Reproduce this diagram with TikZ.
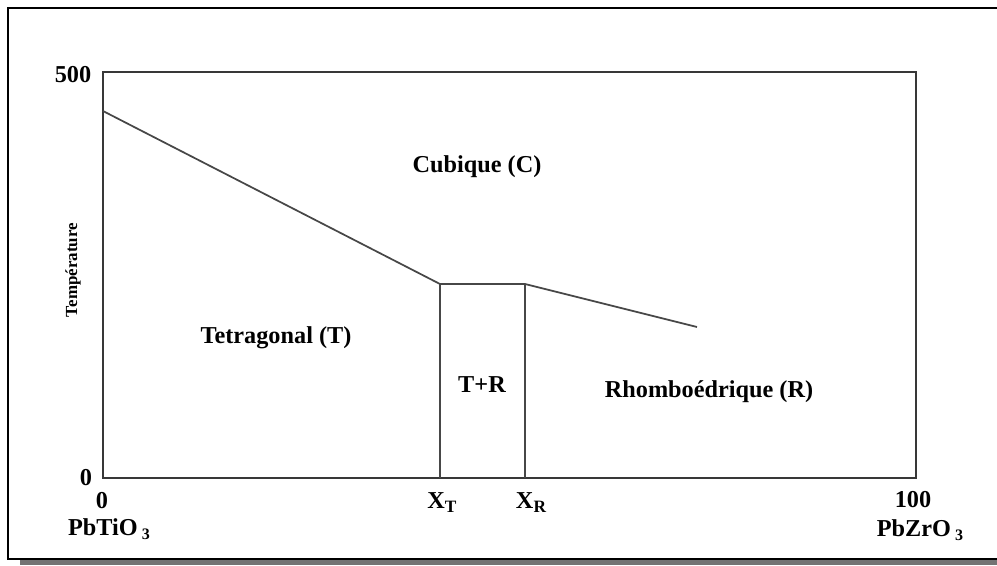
\documentclass[tikz,border=0pt]{standalone}
\usepackage{fontspec}
\setmainfont{Liberation Serif}
\newcommand{\mysubX}[1]{\raisebox{-3.6pt}{\fontsize{13}{13}\selectfont #1}}
\newcommand{\mysubN}[1]{\raisebox{-3.4pt}{\fontsize{12}{12}\selectfont #1}}
\begin{document}
\begin{tikzpicture}[x=0.75pt,y=-0.75pt,
  lbl/.style={font=\bfseries\fontsize{18.2}{20}\selectfont, inner sep=0pt, anchor=base},
  axislbl/.style={font=\bfseries\fontsize{12.7}{14}\selectfont, inner sep=0pt, anchor=base, rotate=90},
  plotline/.style={draw=black!78, line width=1.3pt},
  phaseline/.style={draw=black!72, line width=1.3pt},
  frameline/.style={draw=black, line width=1.5pt}]
\useasboundingbox (0,0) rectangle (997,565);
% outer frame with shadow
\fill[black!55] (20,560) rectangle (997,565);
\draw[frameline] (8,8) rectangle (1002,559);
% plot box
\coordinate (bl) at (103,478);
\coordinate (tr) at (916,72);
\draw[plotline] (bl) rectangle (tr);
% phase boundaries
\coordinate (tc0) at (103,111);
\coordinate (xt) at (440,284);
\coordinate (xr) at (525,284);
\coordinate (rend) at (697,327);
\coordinate (xtb) at (440,478);
\coordinate (xrb) at (525,478);
\draw[phaseline] (tc0) -- (xt) -- (xr) -- (rend);
\draw[phaseline] (xt) -- (xtb);
\draw[phaseline] (xr) -- (xrb);
% labels
\node[lbl] (y500) at (73,82) {500};
\node[lbl] (y0) at (86,485) {0};
\node[lbl] (x0) at (102,508) {0};
\node[lbl] (x100) at (913,507) {100};
\node[lbl] (pbti) at (109,535) {PbTiO\,\mysubN{3}};
\node[lbl] (pbzr) at (920,536) {PbZrO\,\mysubN{3}};
\node[lbl] (lxt) at (442,508) {X\mysubX{T}};
\node[lbl] (lxr) at (531,508) {X\mysubX{R}};
\node[lbl] (tr) at (482,392) {T+R};
\node[lbl] (cub) at (477,172) {Cubique (C)};
\node[lbl] (tet) at (276,343) {Tetragonal (T)};
\node[lbl] (rho) at (709,397) {Rhomboédrique (R)};
\node[axislbl] (temp) at (77,270) {Température};
\end{tikzpicture}
\end{document}
